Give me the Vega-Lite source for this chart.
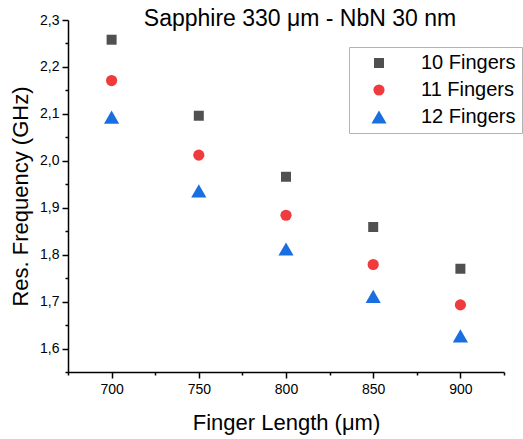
{
  "$schema": "https://vega.github.io/schema/vega-lite/v6.json",
  "autosize": "none",
  "width": 436,
  "height": 352,
  "padding": {"left": 68, "top": 20, "right": 19, "bottom": 67},
  "background": "white",
  "title": {
    "text": "Sapphire 330 μm - NbN 30 nm",
    "font": "Liberation Sans",
    "fontSize": 23,
    "fontWeight": "normal",
    "color": "black",
    "anchor": "middle",
    "frame": "group",
    "dx": 14,
    "baseline": "alphabetic",
    "offset": -36
  },
  "data": {
    "values": [
      {"length": 700, "freq": 2.258, "series": "10 Fingers"},
      {"length": 750, "freq": 2.096, "series": "10 Fingers"},
      {"length": 800, "freq": 1.966, "series": "10 Fingers"},
      {"length": 850, "freq": 1.859, "series": "10 Fingers"},
      {"length": 900, "freq": 1.770, "series": "10 Fingers"},
      {"length": 700, "freq": 2.171, "series": "11 Fingers"},
      {"length": 750, "freq": 2.012, "series": "11 Fingers"},
      {"length": 800, "freq": 1.884, "series": "11 Fingers"},
      {"length": 850, "freq": 1.779, "series": "11 Fingers"},
      {"length": 900, "freq": 1.693, "series": "11 Fingers"},
      {"length": 700, "freq": 2.093, "series": "12 Fingers"},
      {"length": 750, "freq": 1.936, "series": "12 Fingers"},
      {"length": 800, "freq": 1.812, "series": "12 Fingers"},
      {"length": 850, "freq": 1.711, "series": "12 Fingers"},
      {"length": 900, "freq": 1.627, "series": "12 Fingers"}
    ]
  },
  "mark": {"type": "point", "filled": true, "opacity": 1},
  "encoding": {
    "x": {
      "field": "length",
      "type": "quantitative",
      "scale": {"domain": [675, 925], "nice": false, "zero": false},
      "axis": {
        "title": "Finger Length (μm)",
        "values": [675, 700, 725, 750, 775, 800, 825, 850, 875, 900, 925],
        "labelExpr": "datum.value % 50 == 0 ? datum.label : ''",
        "tickSize": {"condition": {"test": "datum.value % 50 != 0", "value": 3}, "value": 6},
        "labelPadding": 4,
        "titlePadding": 16
      }
    },
    "y": {
      "field": "freq",
      "type": "quantitative",
      "scale": {"domain": [1.55, 2.3], "nice": false, "zero": false},
      "axis": {
        "title": "Res. Frequency (GHz)",
        "values": [1.55, 1.6, 1.65, 1.7, 1.75, 1.8, 1.85, 1.9, 1.95, 2.0, 2.05, 2.1, 2.15, 2.2, 2.25, 2.3],
        "labelExpr": "abs(round(datum.value * 100) % 10) < 0.5 ? replace(format(datum.value, '.1f'), '.', ',') : ''",
        "tickSize": {"condition": {"test": "abs(round(datum.value * 100) % 10) > 0.5", "value": 3}, "value": 6},
        "labelPadding": 3,
        "titlePadding": 7
      }
    },
    "color": {
      "field": "series",
      "type": "nominal",
      "scale": {"domain": ["10 Fingers", "11 Fingers", "12 Fingers"], "range": ["#505050", "#ef3b3e", "#1a6fe0"]},
      "legend": {"title": null}
    },
    "shape": {
      "field": "series",
      "type": "nominal",
      "scale": {"domain": ["10 Fingers", "11 Fingers", "12 Fingers"], "range": ["square", "circle", "triangle-up"]},
      "legend": {"title": null}
    },
    "size": {
      "field": "series",
      "type": "ordinal",
      "scale": {"type": "ordinal", "domain": ["10 Fingers", "11 Fingers", "12 Fingers"], "range": [100, 125, 230]},
      "legend": {"title": null}
    }
  },
  "config": {
    "view": {"stroke": null},
    "axis": {
      "grid": false,
      "domainColor": "black",
      "domainWidth": 1.5,
      "tickColor": "black",
      "tickWidth": 1.5,
      "labelFont": "Liberation Sans",
      "labelFontSize": 14,
      "labelColor": "black",
      "titleFont": "Liberation Sans",
      "titleFontSize": 22,
      "titleFontWeight": "normal",
      "titleColor": "black"
    },
    "legend": {
      "orient": "none",
      "legendX": 281,
      "legendY": 27,
      "strokeColor": "#b4b4b4",
      "fillColor": "white",
      "padding": 6,
      "labelFont": "Liberation Sans",
      "labelFontSize": 20,
      "labelColor": "black",
      "labelOffset": 32,
      "symbolOffset": 14,
      "rowPadding": 7,
      "labelLimit": 300
    }
  }
}
